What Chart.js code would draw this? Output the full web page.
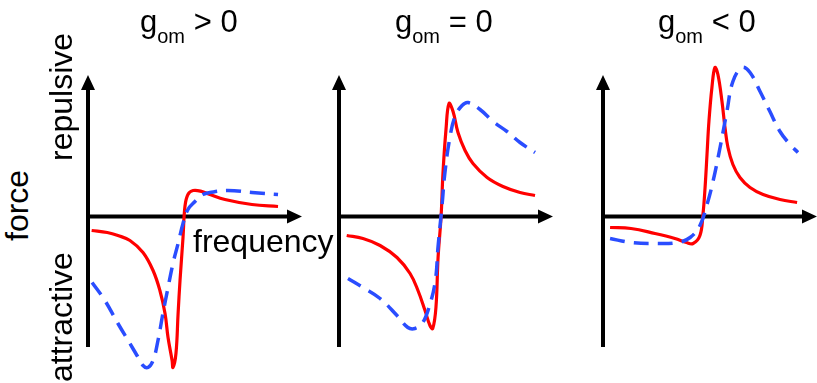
<!DOCTYPE html>
<html>
<head>
<meta charset="utf-8">
<script src="https://cdn.jsdelivr.net/npm/chart.js@4"></script>
<style>
  body { margin: 0; background: #fff; }
  #wrap { position: relative; width: 817px; height: 383px; overflow: hidden; background: #fff; font-family: "Liberation Sans", Arial, sans-serif; color: #000; }
  #wrap canvas { position: absolute; top: 0; }
  .lbl { position: absolute; font-size: 32px; line-height: 32px; white-space: nowrap; z-index: 2; }
  .rot { transform-origin: 0 0; transform: rotate(-90deg); }
  .ttl { position: absolute; font-size: 31px; line-height: 31px; white-space: nowrap; z-index: 2; }
  .ttl span { font-size: 20px; position: relative; top: 11px; }
</style>
</head>
<body>
<div id="wrap">
  <canvas id="panel1" width="240" height="383" style="left:68px"></canvas>
  <canvas id="panel2" width="240" height="383" style="left:319px"></canvas>
  <canvas id="panel3" width="234" height="383" style="left:583px"></canvas>

  <div class="ttl" style="left:140px; top:6px">g<span>om</span> &gt; 0</div>
  <div class="ttl" style="left:395px; top:6px">g<span>om</span> = 0</div>
  <div class="ttl" style="left:658px; top:6px">g<span>om</span> &lt; 0</div>

  <div class="lbl rot" style="left:1px; top:241px">force</div>
  <div class="lbl rot" style="left:45px; top:161px">repulsive</div>
  <div class="lbl rot" style="left:45px; top:382px">attractive</div>
  <div class="lbl" style="left:193px; top:225px">frequency</div>
</div>
<script>
// panel 1: g_om > 0
const p1RedX  = [0.17, 0.90, 1.40, 1.96, 2.57, 3.04, 3.36, 3.60, 3.74, 3.93, 3.97, 4.11, 4.21, 4.30, 4.44, 4.53, 4.67, 4.91, 5.33, 5.70, 6.40, 7.66, 8.88];
const p1RedY  = [-0.14, -0.16, -0.19, -0.24, -0.36, -0.54, -0.74, -0.97, -1.21, -1.44, -1.51, -1.37, -0.97, -0.64, -0.21, 0.10, 0.22, 0.26, 0.25, 0.22, 0.17, 0.12, 0.10];
const p1BlueX = [0.19, 0.79, 1.40, 1.96, 2.29, 2.57, 2.80, 3.04, 3.27, 3.50, 3.74, 3.97, 4.21, 4.44, 4.67, 5.00, 5.37, 5.70, 6.54, 7.66, 8.88];
const p1BlueY = [-0.66, -0.84, -1.07, -1.27, -1.39, -1.49, -1.51, -1.44, -1.24, -0.97, -0.71, -0.47, -0.27, -0.07, 0.07, 0.15, 0.22, 0.24, 0.26, 0.24, 0.22];

// panel 2: g_om = 0
const p2RedX  = [0.36, 1.12, 1.92, 2.71, 3.32, 3.69, 4.02, 4.25, 4.38, 4.53, 4.63, 4.77, 4.86, 5.00, 5.14, 5.33, 5.56, 5.89, 6.26, 6.92, 7.66, 8.46, 9.16];
const p2RedY  = [-0.19, -0.22, -0.29, -0.41, -0.57, -0.74, -0.94, -1.09, -1.12, -0.91, -0.41, 0.00, 0.44, 0.87, 1.13, 1.05, 0.84, 0.66, 0.53, 0.39, 0.30, 0.24, 0.21];
const p2BlueX = [0.42, 1.12, 1.92, 2.71, 3.22, 3.55, 3.88, 4.16, 4.49, 4.63, 4.81, 4.95, 5.19, 5.42, 5.75, 6.03, 6.59, 7.20, 7.85, 8.46, 9.16];
const p2BlueY = [-0.62, -0.71, -0.82, -0.99, -1.11, -1.12, -1.07, -0.94, -0.66, -0.30, 0.10, 0.44, 0.80, 1.00, 1.11, 1.14, 1.07, 0.95, 0.85, 0.74, 0.64];

// panel 3: g_om < 0
const p3RedX  = [0.33, 1.31, 2.43, 3.36, 3.90, 4.21, 4.53, 4.67, 4.77, 4.86, 4.95, 5.09, 5.23, 5.37, 5.56, 5.70, 5.84, 6.07, 6.40, 6.87, 7.48, 8.27, 9.07];
const p3RedY  = [-0.11, -0.12, -0.17, -0.22, -0.26, -0.27, -0.19, 0.02, 0.29, 0.62, 0.95, 1.29, 1.49, 1.42, 1.15, 0.89, 0.69, 0.52, 0.39, 0.29, 0.22, 0.17, 0.14];
const p3BlueX = [0.33, 1.31, 2.43, 3.50, 4.07, 4.53, 4.86, 5.14, 5.47, 5.79, 6.07, 6.50, 6.87, 7.34, 7.80, 8.27, 8.74, 9.11];
const p3BlueY = [-0.22, -0.26, -0.27, -0.26, -0.21, -0.09, 0.12, 0.35, 0.69, 1.05, 1.35, 1.49, 1.44, 1.25, 1.05, 0.85, 0.72, 0.64];

const pts = (xs, ys) => xs.map((x, i) => ({x: x, y: ys[i]}));

// black axes with arrow heads
const axesArrows = {
    id: 'axesArrows',
    beforeDatasetsDraw(chart) {
        const ctx = chart.ctx;
        const sx = chart.scales.x, sy = chart.scales.y;
        const x0 = sx.getPixelForValue(0), y0 = sy.getPixelForValue(0);
        const xEnd = sx.getPixelForValue(10);
        const yTop = sy.getPixelForValue(1.415);
        const yBot = sy.getPixelForValue(-1.305);
        const len = 15, half = 7;
        ctx.save();
        ctx.strokeStyle = '#000';
        ctx.fillStyle = '#000';
        ctx.lineWidth = 4;
        ctx.beginPath();
        ctx.moveTo(x0, yBot);
        ctx.lineTo(x0, yTop + len - 2);
        ctx.moveTo(x0 - 2, y0);
        ctx.lineTo(xEnd - len + 2, y0);
        ctx.stroke();
        ctx.beginPath();
        ctx.moveTo(x0, yTop);
        ctx.lineTo(x0 - half, yTop + len);
        ctx.lineTo(x0 + half, yTop + len);
        ctx.closePath();
        ctx.moveTo(xEnd, y0);
        ctx.lineTo(xEnd - len, y0 - half);
        ctx.lineTo(xEnd - len, y0 + half);
        ctx.closePath();
        ctx.fill();
        ctx.restore();
    }
};

function makePanel(id, redX, redY, blueX, blueY, padRight) {
    return new Chart(document.getElementById(id), {
        type: 'line',
        data: {
            datasets: [
                {
                    label: 'blue',
                    data: pts(blueX, blueY),
                    borderColor: '#2a4dff',
                    borderWidth: 3.5,
                    borderDash: [15, 9],
                    pointRadius: 0,
                    tension: 0.4,
                },
                {
                    label: 'red',
                    data: pts(redX, redY),
                    borderColor: '#ff0000',
                    borderWidth: 3.2,
                    pointRadius: 0,
                    tension: 0.4,
                },
            ]
        },
        options: {
            responsive: false,
            animation: false,
            layout: { padding: { left: 20, right: padRight, top: 46.5, bottom: 6.5 } },
            scales: {
                x: { type: 'linear', min: 0, max: 10, display: false },
                y: { type: 'linear', min: -1.6, max: 1.7, display: false },
            },
            plugins: {
                legend: { display: false },
                tooltip: { enabled: false },
            },
        },
        plugins: [axesArrows]
    });
}

makePanel('panel1', p1RedX, p1RedY, p1BlueX, p1BlueY, 6);
makePanel('panel2', p2RedX, p2RedY, p2BlueX, p2BlueY, 6);
makePanel('panel3', p3RedX, p3RedY, p3BlueX, p3BlueY, 0);
</script>
</body>
</html>
